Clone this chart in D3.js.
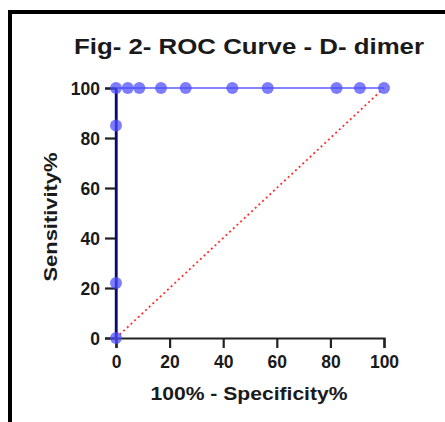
<!DOCTYPE html>
<html>
<head>
<meta charset="utf-8">
<script src="https://cdn.jsdelivr.net/npm/d3@7"></script>
<style>
  html, body { margin: 0; padding: 0; background: #fff; }
  svg { display: block; font-family: "Liberation Sans", Arial, sans-serif; }
  .tick text { font-size: 17.5px; font-weight: bold; fill: #1a1a1a; }
</style>
</head>
<body>
<div id="chart"></div>
<script>
// ROC points (100% - specificity, sensitivity)
const fpr = [0, 0, 0, 0, 4.4, 8.7, 16.8, 26, 43.4, 56.6, 82.3, 91, 100];
const tpr = [0, 22, 85, 100, 100, 100, 100, 100, 100, 100, 100, 100, 100];
const xTicks = [0, 20, 40, 60, 80, 100];
const yTicks = [0, 20, 40, 60, 80, 100];

const W = 445, H = 422;
const m = { top: 88, right: 61, bottom: 84, left: 116 };

const svg = d3.select("#chart").append("svg").attr("width", W).attr("height", H);

// frame round the figure (only left + top edges show)
svg.append("path").attr("d", `M10,${H} V12 H${W}`)
  .attr("fill", "none").attr("stroke", "#000").attr("stroke-width", 4);

const x = d3.scaleLinear().domain([0, 100]).range([m.left, W - m.right]);
const y = d3.scaleLinear().domain([0, 100]).range([H - m.bottom, m.top]);

// axes
const xa = svg.append("g").attr("transform", `translate(0,${y(0)})`)
  .call(d3.axisBottom(x).tickValues(xTicks).tickSize(10));
const ya = svg.append("g").attr("transform", `translate(${x(0)},0)`)
  .call(d3.axisLeft(y).tickValues(yTicks).tickSize(11).tickPadding(5));
[xa, ya].forEach((a) => {
  a.select(".domain").attr("stroke", "#222").attr("stroke-width", 2.2);
  a.selectAll(".tick line").attr("stroke", "#222").attr("stroke-width", 2.2);
});
xa.selectAll(".tick text").attr("y", 30).attr("dy", 0);
ya.selectAll(".tick text").attr("dy", "0.36em");

// chance line
svg.append("line").attr("x1", x(0)).attr("y1", y(0)).attr("x2", x(100)).attr("y2", y(100))
  .attr("stroke", "#ff3030").attr("stroke-width", 1.8).attr("stroke-dasharray", "2,3");

// ROC line: vertical part navy, top run light blue
const idxTop = tpr.indexOf(100);
const line = d3.line().x((d) => x(d[0])).y((d) => y(d[1]));
const pts = fpr.map((v, i) => [v, tpr[i]]);
svg.append("path").datum(pts.slice(idxTop)).attr("d", line)
  .attr("fill", "none").attr("stroke", "#8585ff").attr("stroke-width", 2);
svg.append("path").datum(pts.slice(0, idxTop + 1)).attr("d", line)
  .attr("fill", "none").attr("stroke", "#0a0a6e").attr("stroke-width", 2.4);

svg.append("g").selectAll("circle").data(pts).join("circle")
  .attr("cx", (d) => x(d[0])).attr("cy", (d) => y(d[1])).attr("r", 6)
  .attr("fill", "#4b4bff").attr("fill-opacity", 0.72);

// titles (source lettering is a little wider than Liberation, so stretch to fit)
svg.append("text").attr("x", 249).attr("y", 54).attr("text-anchor", "middle")
  .attr("font-size", 21.5).attr("font-weight", "bold").attr("fill", "#1a1a1a")
  .attr("textLength", 350).attr("lengthAdjust", "spacingAndGlyphs")
  .text("Fig- 2- ROC Curve - D- dimer");
svg.append("text").attr("x", 249).attr("y", 400).attr("text-anchor", "middle")
  .attr("font-size", 18.5).attr("font-weight", "bold").attr("fill", "#1a1a1a")
  .attr("textLength", 197).attr("lengthAdjust", "spacingAndGlyphs")
  .text("100% - Specificity%");
svg.append("text").attr("transform", `translate(57,217) rotate(-90)`)
  .attr("text-anchor", "middle")
  .attr("font-size", 19).attr("font-weight", "bold").attr("fill", "#1a1a1a")
  .attr("textLength", 129).attr("lengthAdjust", "spacingAndGlyphs")
  .text("Sensitivity%");
</script>
</body>
</html>
